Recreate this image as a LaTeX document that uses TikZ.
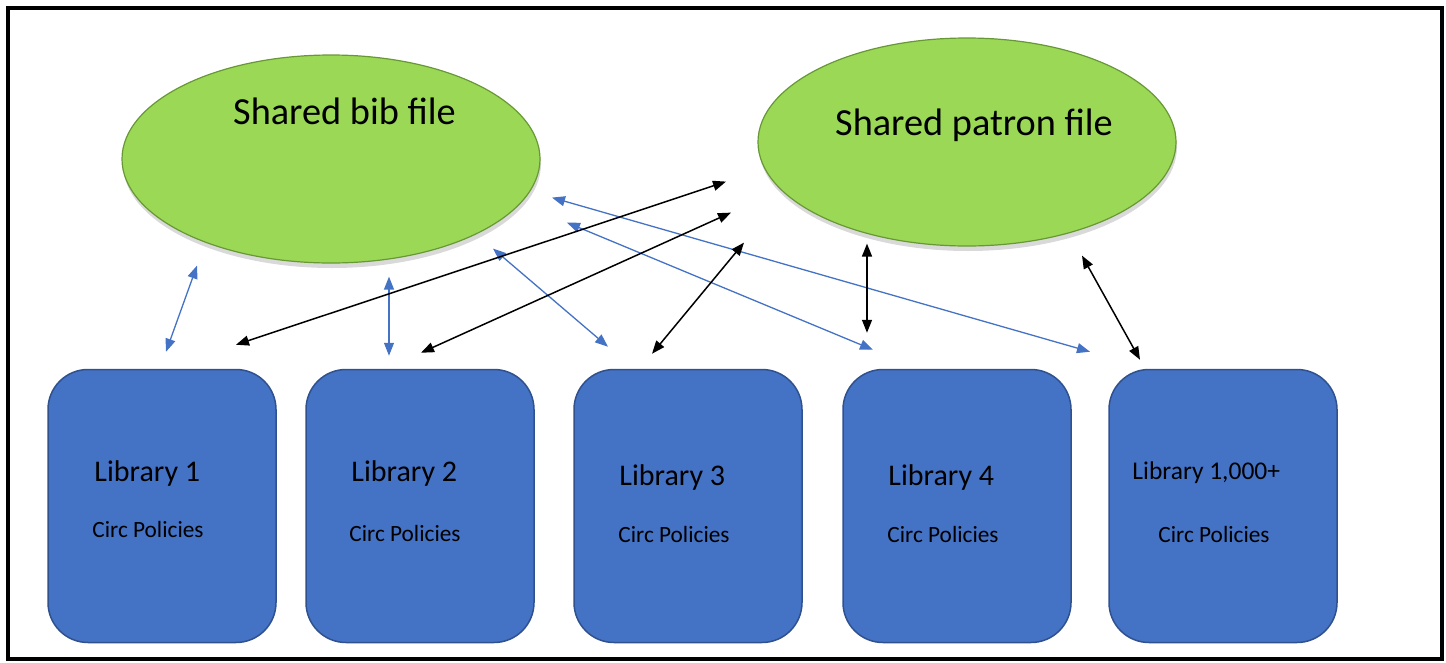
\documentclass[tikz,border=0pt]{standalone}
\usepackage{fontspec}
\setmainfont{Carlito}
\usetikzlibrary{shapes.geometric,arrows.meta,shadows}

\definecolor{bubgreen}{RGB}{155,216,86}
\definecolor{bubedge}{RGB}{104,152,54}
\definecolor{libblue}{RGB}{68,114,196}
\definecolor{libedge}{RGB}{47,82,143}

\tikzset{
  filebub/.style={ellipse,draw=bubedge,fill=bubgreen,line width=1.2pt,
    minimum width=418pt,minimum height=208pt,inner sep=0pt,
    drop shadow={shadow xshift=1pt,shadow yshift=-5pt,opacity=.3}},
  bigtxt/.style={anchor=base west,inner sep=0pt,font=\fontsize{38.3}{44}\selectfont},
  libbox/.style={draw=libedge,fill=libblue,line width=1.5pt,rounded corners=40pt,
    minimum width=228pt,minimum height=273pt,inner sep=0pt},
  libname/.style={anchor=base west,inner sep=0pt,font=\fontsize{30}{35}\selectfont},
  circtxt/.style={anchor=base west,inner sep=0pt,font=\fontsize{23.3}{27}\selectfont},
  bluearr/.style={{Triangle[length=13pt,width=10pt]}-{Triangle[length=13pt,width=10pt]},
    draw=libblue,line width=1.3pt},
  blkarr/.style={{Triangle[length=13pt,width=10pt]}-{Triangle[length=13pt,width=10pt]},
    draw=black,line width=1.5pt}
}

\begin{document}
\begin{tikzpicture}[x=1pt,y=-1pt]
    \useasboundingbox (0,0) rectangle (1446,662);
    \draw[line width=3.5pt] (8,8) rectangle (1442,659);

    % shared files
    \node[filebub] (bib) at (331,159) {};
    \node[filebub] (patron) at (967,142) {};
    \node[bigtxt] (bibtxt) at ([shift={(-98,-35)}]bib.center) {Shared bib file};
    \node[bigtxt] (patrontxt) at ([shift={(-132,-7)}]patron.center) {Shared patron file};

    % libraries
    \node[libbox] (lib1) at (162,506) {};
    \node[libbox] (lib2) at (420,506) {};
    \node[libbox] (lib3) at (688,506) {};
    \node[libbox] (lib4) at (957,506) {};
    \node[libbox] (lib5) at (1223,506) {};

    \node[libname] (lib1name) at ([shift={(47,-25)}]lib1.west) {Library 1};
    \node[circtxt] (lib1circ) at ([shift={(45,31)}]lib1.west) {Circ Policies};
    \node[libname] (lib2name) at ([shift={(46,-25)}]lib2.west) {Library 2};
    \node[circtxt] (lib2circ) at ([shift={(44,35)}]lib2.west) {Circ Policies};
    \node[libname] (lib3name) at ([shift={(46,-21)}]lib3.west) {Library 3};
    \node[circtxt] (lib3circ) at ([shift={(45,36)}]lib3.west) {Circ Policies};
    \node[libname] (lib4name) at ([shift={(46,-21)}]lib4.west) {Library 4};
    \node[circtxt] (lib4circ) at ([shift={(45,36)}]lib4.west) {Circ Policies};
    \node[libname,font=\fontsize{25.5}{30}\selectfont] (lib5name) at ([shift={(24,-27)}]lib5.west) {Library 1,000+};
    \node[circtxt] (lib5circ) at ([shift={(50,36)}]lib5.west) {Circ Policies};

    % links to the bib file
    \draw[bluearr] ([shift={(4,-17)}]lib1.north) -- ([shift={(-134,2)}]bib.south);
    \draw[bluearr] ([shift={(-31,-13)}]lib2.north) -- ([shift={(58,13)}]bib.south);
    \draw[bluearr] ([shift={(-80,-22)}]lib3.north) -- ([shift={(162,-15)}]bib.south);
    \draw[bluearr] ([shift={(-84,-19)}]lib4.north) -- ([shift={(236,-41)}]bib.south);
    \draw[bluearr] ([shift={(-133,-17)}]lib5.north) -- ([shift={(221,-66)}]bib.south);

    % links to the patron file
    \draw[blkarr] ([shift={(74,-24)}]lib1.north) -- ([shift={(-241,-65)}]patron.south);
    \draw[blkarr] ([shift={(1,-16)}]lib2.north) -- ([shift={(-236,-34)}]patron.south);
    \draw[blkarr] ([shift={(-36,-15)}]lib3.north) -- ([shift={(-223,-4)}]patron.south);
    \draw[blkarr] ([shift={(-90,-36)}]lib4.north) -- ([shift={(-100,-3)}]patron.south);
    \draw[blkarr] ([shift={(-83,-9)}]lib5.north) -- ([shift={(115,9)}]patron.south);

\end{tikzpicture}
\end{document}
